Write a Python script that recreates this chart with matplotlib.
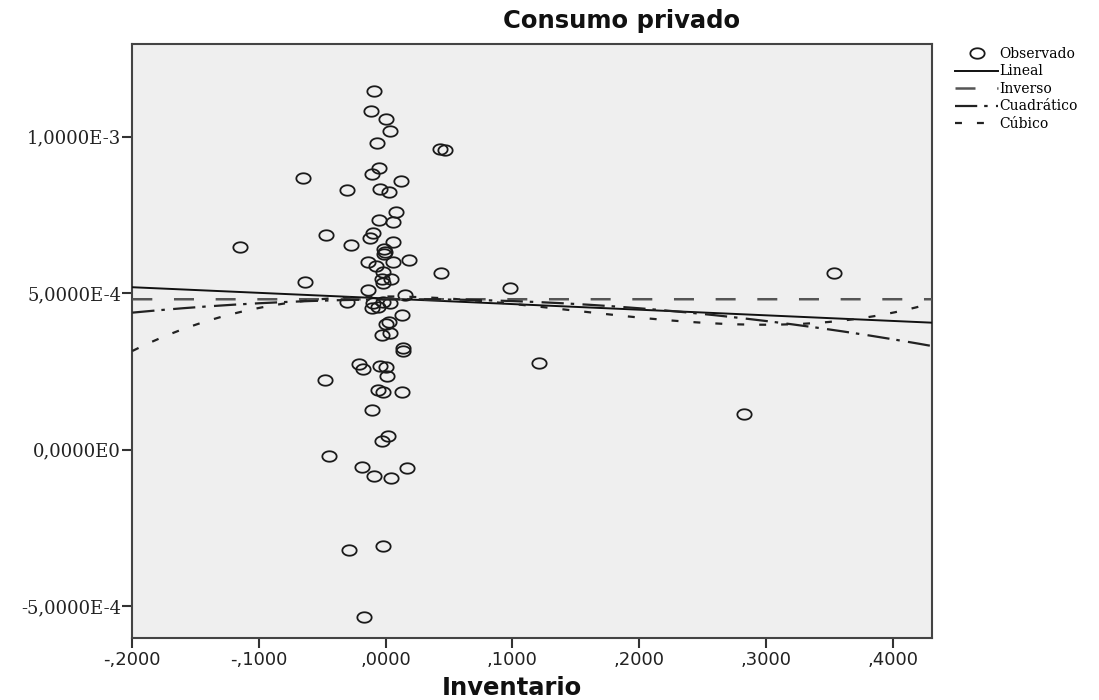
import numpy as np
import matplotlib
matplotlib.use('Agg')
import matplotlib.pyplot as plt
from matplotlib.path import Path
from matplotlib.ticker import FixedLocator, FixedFormatter

# ------------------------------------------------------------------ #
# Data: Inventario (x) vs Consumo privado (y)
# ------------------------------------------------------------------ #

inventario = [
    -0.0089, -0.0115, 0.0003, 0.0037, -0.0066, 0.0430, 0.0471, -0.0052,
    -0.0110, -0.0656, 0.0119, -0.0307, -0.0044, 0.0029, 0.0077, -0.0050,
    0.0061, -0.0471, -0.0102, -0.0121, -0.0271, 0.0056, -0.0010, -0.0005,
    -0.0013, -0.1150, 0.0187, -0.0137, -0.0078, 0.0058, 0.0435, 0.3540,
    -0.0634, -0.0023, -0.0031, -0.0023, 0.0045, 0.0977, -0.0144, 0.0148,
    -0.0307, -0.0097, -0.0018, 0.0035, -0.0110, -0.0058, 0.0127, 0.0003,
    0.0029, -0.0031, 0.0035, 0.0140, 0.0140, 0.1209, -0.0208, -0.0176,
    -0.0044, 0.0003, 0.0009, -0.0478, -0.0058, -0.0018, 0.0129, -0.0107,
    0.2830, 0.0021, -0.0031, -0.0444, -0.0189, 0.0171, -0.0092, 0.0040,
    -0.0287, -0.0023, -0.0171,
]

consumo = [
    1.1464e-3, 1.0835e-3, 1.0569e-3, 1.0186e-3, 0.9802e-3, 0.9620e-3, 0.9578e-3, 0.9012e-3,
    0.8801e-3, 0.8677e-3, 0.8587e-3, 0.8293e-3, 0.8322e-3, 0.8226e-3, 0.7606e-3, 0.7331e-3,
    0.7267e-3, 0.6845e-3, 0.6915e-3, 0.6765e-3, 0.6531e-3, 0.6647e-3, 0.6423e-3, 0.6327e-3,
    0.6253e-3, 0.6468e-3, 0.6052e-3, 0.5998e-3, 0.5879e-3, 0.5988e-3, 0.5636e-3, 0.5646e-3,
    0.5358e-3, 0.5668e-3, 0.5454e-3, 0.5317e-3, 0.5464e-3, 0.5176e-3, 0.5112e-3, 0.4952e-3,
    0.4703e-3, 0.4677e-3, 0.4728e-3, 0.4677e-3, 0.4517e-3, 0.4569e-3, 0.4294e-3, 0.4015e-3,
    0.4063e-3, 0.3664e-3, 0.3718e-3, 0.3239e-3, 0.3152e-3, 0.2759e-3, 0.2727e-3, 0.2577e-3,
    0.2682e-3, 0.2650e-3, 0.2353e-3, 0.2216e-3, 0.1905e-3, 0.1841e-3, 0.1832e-3, 0.1266e-3,
    0.1138e-3, 0.0435e-3, 0.0265e-3, -0.0195e-3, -0.0547e-3, -0.0598e-3, -0.0834e-3, -0.0918e-3,
    -0.3210e-3, -0.3072e-3, -0.5361e-3,
]

# fitted model coefficients (y = b0 + b1*x + b2*x^2 + b3*x^3, inverse: b0 + b1/x)
lin_coef = [4.83e-4, -1.795e-4]
inv_coef = [4.805e-4, 1e-10]
quad_coef = [4.80e-4, 0.349e-4, -8.83e-4]
cub_coef = [4.894e-4, -0.035e-4, -30.21e-4, 67.62e-4]

x_ticks = [-0.2, -0.1, 0.0, 0.1, 0.2, 0.3, 0.4]
x_ticklabels = ['-,2000', '-,1000', ',0000', ',1000', ',2000', ',3000', ',4000']
y_ticks = [-5e-4, 0.0, 5e-4, 1e-3]
y_ticklabels = ['-5,0000E-4', '0,0000E0', '5,0000E-4', '1,0000E-3']

X_MIN, X_MAX = -0.2, 0.4313
Y_MIN, Y_MAX = -6.03e-4, 1.296e-3

# ------------------------------------------------------------------ #
# Plot
# ------------------------------------------------------------------ #

plt.rcParams['lines.scale_dashes'] = False

fig = plt.figure(figsize=(10.99, 7.0), dpi=100)
ax = fig.add_axes([0.1204, 0.0881, 0.7279, 0.849])
ax.set_facecolor('#efefef')

# slightly wide open circle, as in the SPSS output
t = np.linspace(0, 2 * np.pi, 60)
ellipse = Path(np.column_stack([np.cos(t), 0.73 * np.sin(t)]), closed=True)

pts = ax.plot(inventario, consumo, linestyle='none', marker=ellipse,
              markersize=10.3, markerfacecolor='none', markeredgecolor='#1a1a1a',
              markeredgewidth=1.3, label='Observado', zorder=2)[0]

xs = np.linspace(X_MIN, X_MAX, 600)
y_lin = lin_coef[0] + lin_coef[1] * xs
y_inv = inv_coef[0] + inv_coef[1] / xs
y_quad = quad_coef[0] + quad_coef[1] * xs + quad_coef[2] * xs**2
y_cub = cub_coef[0] + cub_coef[1] * xs + cub_coef[2] * xs**2 + cub_coef[3] * xs**3

l1, = ax.plot(xs, y_lin, color='#111111', linewidth=1.4, label='Lineal', zorder=3)
l2, = ax.plot(xs, y_inv, color='#555555', linewidth=1.8, linestyle=(0, (14.4, 15.6)),
              label='Inverso', zorder=3)
l3, = ax.plot(xs, y_quad, color='#222222', linewidth=1.6, linestyle=(0, (16, 5, 2.5, 6)),
              label='Cuadrático', zorder=3)
l4, = ax.plot(xs, y_cub, color='#222222', linewidth=1.6, linestyle=(0, (5, 10.8)),
              label='Cúbico', zorder=3)

ax.set_xlim(X_MIN, X_MAX)
ax.set_ylim(Y_MIN, Y_MAX)

ax.xaxis.set_major_locator(FixedLocator(x_ticks))
ax.xaxis.set_major_formatter(FixedFormatter(x_ticklabels))
ax.yaxis.set_major_locator(FixedLocator(y_ticks))
ax.yaxis.set_major_formatter(FixedFormatter(y_ticklabels))

ax.tick_params(axis='both', direction='out', length=7.5, width=1.5, color='#333333')
ax.tick_params(axis='x', pad=1.5, labelcolor='#222222')
ax.tick_params(axis='y', pad=0.5, labelcolor='#222222')
for lbl in ax.get_xticklabels():
    lbl.set_fontfamily('DejaVu Sans')
    lbl.set_fontsize(13)
for lbl in ax.get_yticklabels():
    lbl.set_fontfamily('DejaVu Serif')
    lbl.set_fontsize(13)

for side in ['left', 'bottom', 'right', 'top']:
    ax.spines[side].set_linewidth(1.5)
    ax.spines[side].set_color('#444444')

fig.text(622 / 1099, 1 - 21 / 700, 'Consumo privado', ha='center', va='center',
         fontsize=17.5, fontweight='bold', family='DejaVu Sans', color='#111111')
fig.text(512 / 1099, 1 - 688 / 700, 'Inventario', ha='center', va='center',
         fontsize=17.5, fontweight='bold', family='DejaVu Sans', color='#111111')

leg = fig.legend(handles=[pts, l1, l2, l3, l4], loc='upper left',
                 bbox_to_anchor=(955 / 1099, 1 - 47 / 700), frameon=False,
                 borderpad=0, borderaxespad=0, handlelength=3.1, handletextpad=0.1,
                 labelspacing=0.25, prop={'family': 'DejaVu Serif', 'size': 10})

fig.savefig('out.png', dpi=100)
